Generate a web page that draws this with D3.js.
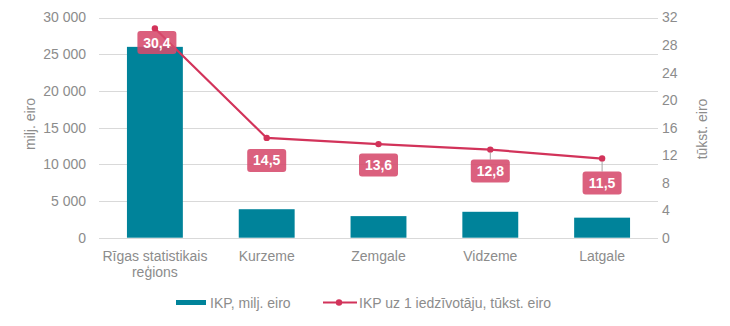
<!DOCTYPE html>
<html>
<head>
<meta charset="utf-8">
<script src="https://cdn.jsdelivr.net/npm/d3@7"></script>
<style>
  html, body { margin: 0; padding: 0; background: #fff; }
  svg { display: block; font-family: "Liberation Sans", Arial, sans-serif; }
</style>
</head>
<body>
<svg id="chart" width="730" height="326"></svg>
<script>
// Regions (x axis), two lines for the first one
const categories = [["Rīgas statistikais", "reģions"], ["Kurzeme"], ["Zemgale"], ["Vidzeme"], ["Latgale"]];
// GDP, million EUR (bars, left axis)
const gdpTotal = [26000, 3880, 2940, 3530, 2730];
// GDP per inhabitant, thousand EUR (line, right axis)
const gdpPerCapita = [30.4, 14.5, 13.6, 12.8, 11.5];
const leftTicks = [0, 5000, 10000, 15000, 20000, 25000, 30000];
const rightTicks = [0, 4, 8, 12, 16, 20, 24, 28, 32];
const seriesNames = ["IKP, milj. eiro", "IKP uz 1 iedzīvotāju, tūkst. eiro"];
const axisTitles = ["milj. eiro", "tūkst. eiro"];

const svg = d3.select("#chart");
const plot = { left: 99, right: 658, top: 17.5, bottom: 237.7 };
const textColor = "#8c8c8c";
const gridColor = "#d9d9d9";
const barColor = "#00839a";
const lineColor = "#d2335a";
const labelFill = "#d64a6c";
const font = "Liberation Sans, Arial, sans-serif";

const names = categories.map(c => c.join(" "));
const x = d3.scaleBand().domain(names).range([plot.left, plot.right]).paddingInner(0.5).paddingOuter(0.25);
const yL = d3.scaleLinear().domain([0, 30000]).range([plot.bottom, plot.top]);
const yR = d3.scaleLinear().domain([0, 32]).range([plot.bottom, plot.top]);
const fmtThousands = d => d3.format(",")(d).replace(/,/g, " ");
const fmtComma = d => d.toFixed(1).replace(".", ",");

// Horizontal gridlines
svg.append("g")
  .selectAll("line").data(leftTicks).join("line")
  .attr("x1", plot.left).attr("x2", plot.right)
  .attr("y1", d => Math.round(yL(d)) + 0.5).attr("y2", d => Math.round(yL(d)) + 0.5)
  .attr("stroke", gridColor).attr("stroke-width", 1);

// Left axis
const leftAxis = svg.append("g")
  .attr("transform", `translate(${plot.left - 13},0)`)
  .call(d3.axisLeft(yL).tickValues(leftTicks).tickFormat(fmtThousands).tickSize(0).tickPadding(0));
leftAxis.select(".domain").remove();
leftAxis.selectAll("text").attr("fill", textColor).attr("font-size", 14).attr("font-family", font);

// Right axis
const rightAxis = svg.append("g")
  .attr("transform", `translate(${plot.right + 4},0)`)
  .call(d3.axisRight(yR).tickValues(rightTicks).tickSize(0).tickPadding(0));
rightAxis.select(".domain").remove();
rightAxis.selectAll("text").attr("fill", textColor).attr("font-size", 14).attr("font-family", font);

// Axis titles
svg.append("text")
  .attr("transform", "translate(35,124) rotate(-90)")
  .attr("text-anchor", "middle").attr("fill", textColor).attr("font-size", 14)
  .text(axisTitles[0]);
svg.append("text")
  .attr("transform", "translate(707,129) rotate(-90)")
  .attr("text-anchor", "middle").attr("fill", textColor).attr("font-size", 14)
  .text(axisTitles[1]);

// Category labels
const catG = svg.append("g");
categories.forEach((lines, i) => {
  const t = catG.append("text")
    .attr("x", x(names[i]) + x.bandwidth() / 2)
    .attr("y", 261)
    .attr("text-anchor", "middle").attr("fill", textColor).attr("font-size", 14);
  lines.forEach((ln, j) => {
    t.append("tspan").attr("x", x(names[i]) + x.bandwidth() / 2).attr("dy", j === 0 ? 0 : 15.5).text(ln);
  });
});

// Bars
svg.append("g")
  .selectAll("rect").data(gdpTotal).join("rect")
  .attr("x", (d, i) => x(names[i]))
  .attr("width", x.bandwidth())
  .attr("y", d => yL(d))
  .attr("height", d => plot.bottom - yL(d))
  .attr("fill", barColor);

// Line series
const cx = i => x(names[i]) + x.bandwidth() / 2;
const line = d3.line().x((d, i) => cx(i)).y(d => yR(d));
svg.append("path")
  .datum(gdpPerCapita)
  .attr("d", line)
  .attr("fill", "none").attr("stroke", lineColor).attr("stroke-width", 2.2);

svg.append("g")
  .selectAll("circle").data(gdpPerCapita).join("circle")
  .attr("cx", (d, i) => cx(i)).attr("cy", d => yR(d)).attr("r", 3.2)
  .attr("fill", lineColor);

// Data labels under the points; the last two were pulled down and get leader lines
const labelShift = [[2, 14], [0, 22.5], [0, 21], [0, 21.5], [0, 24.5]];
const hasLeader = [false, false, false, true, true];
const lblW = 39, lblH = 23;
const lblG = svg.append("g");
gdpPerCapita.forEach((v, i) => {
  const px = cx(i), py = yR(v);
  const lx = px + labelShift[i][0], ly = py + labelShift[i][1];
  if (hasLeader[i]) {
    lblG.append("line")
      .attr("x1", px).attr("y1", py + 3).attr("x2", lx).attr("y2", ly - lblH / 2)
      .attr("stroke", "#a6a6a6").attr("stroke-width", 1);
  }
  lblG.append("rect")
    .attr("x", lx - lblW / 2).attr("y", ly - lblH / 2)
    .attr("width", lblW).attr("height", lblH).attr("rx", 3)
    .attr("fill", labelFill).attr("fill-opacity", 0.88);
  lblG.append("text")
    .attr("x", lx).attr("y", ly + 5)
    .attr("text-anchor", "middle").attr("fill", "#fff")
    .attr("font-size", 14).attr("font-weight", "bold")
    .text(fmtComma(v));
});

// Legend
const lg = svg.append("g");
lg.append("rect").attr("x", 176).attr("y", 300).attr("width", 30).attr("height", 5).attr("fill", barColor);
lg.append("text").attr("x", 210).attr("y", 308).attr("fill", textColor).attr("font-size", 14).text(seriesNames[0]);
lg.append("line").attr("x1", 323).attr("x2", 357).attr("y1", 302.5).attr("y2", 302.5)
  .attr("stroke", lineColor).attr("stroke-width", 2.2);
lg.append("circle").attr("cx", 339).attr("cy", 302.5).attr("r", 3.2).attr("fill", lineColor);
lg.append("text").attr("x", 359).attr("y", 308).attr("fill", textColor).attr("font-size", 14).text(seriesNames[1]);
</script>
</body>
</html>
